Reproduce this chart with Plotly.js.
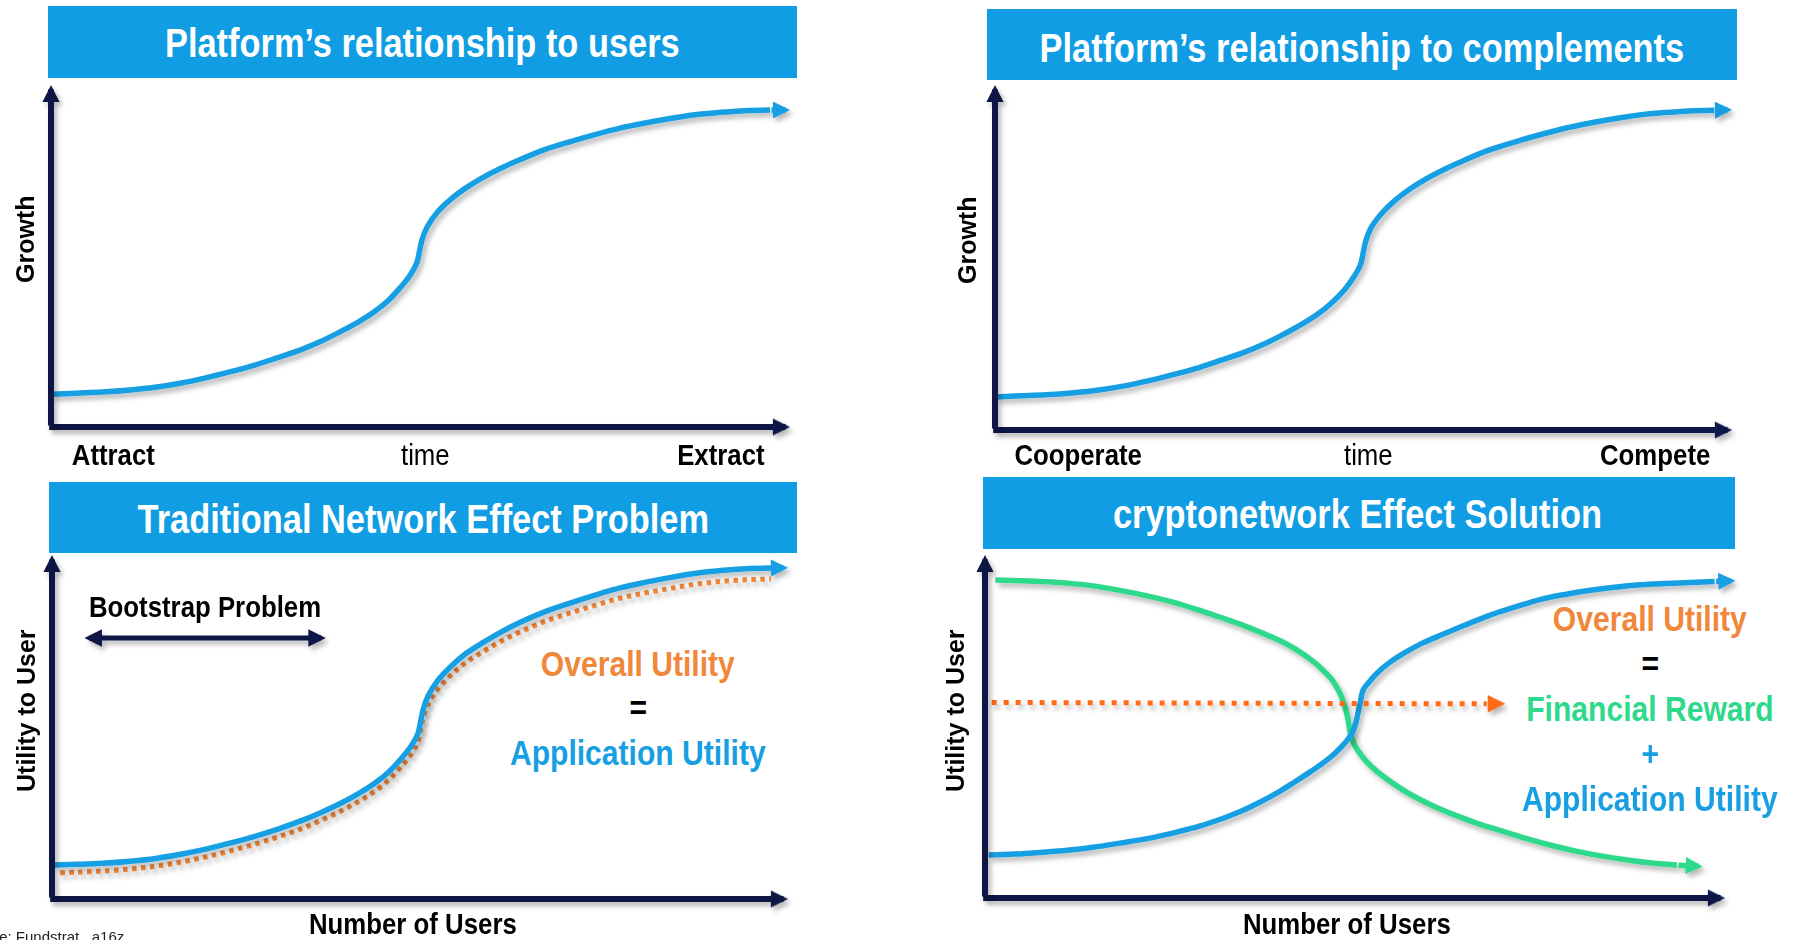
<!DOCTYPE html>
<html>
<head>
<meta charset="utf-8">
<script src="https://cdn.plot.ly/plotly-3.0.1.min.js"></script>
<style>
html, body { margin: 0; padding: 0; background: #fff; }
#chart { width: 1794px; height: 940px; }
</style>
</head>
<body>
<div id="chart"></div>
<script>
var W = 1794, H = 940;

// curves, each panel on its own 0-100 scale (last point = arrow tip)
var usersX = [0.1, 3.5, 6.9, 10.7, 14.1, 17.5, 20.8, 24.2, 27.6, 30.7, 33.7, 36.4, 39.1, 41.5, 43.7, 45.6, 47.2, 48.6, 49.5, 49.9,
              50.2, 50.9, 52.2, 54.0, 56.0, 58.3, 60.8, 63.5, 66.8, 70.2, 73.6, 77.0, 80.4, 83.8, 87.1, 90.5, 93.9, 97.3, 100];
var usersY = [9.6, 9.9, 10.2, 10.8, 11.6, 12.8, 14.3, 16.1, 18.1, 20.3, 22.5, 24.9, 27.8, 30.6, 33.6, 36.9, 40.6, 44.4, 48.0, 51.8,
              54.7, 58.5, 62.6, 66.4, 69.7, 72.8, 75.6, 78.2, 81.1, 83.4, 85.5, 87.4, 88.9, 90.2, 91.3, 92.0, 92.5, 92.7, 92.7];

var complX = [0.1, 3.5, 6.9, 10.7, 14.1, 17.6, 20.9, 24.3, 27.7, 30.8, 33.8, 36.5, 39.2, 41.6, 43.8, 45.7, 47.4, 48.7, 49.6, 50.0,
              50.3, 51.0, 52.4, 54.2, 56.2, 58.5, 61.0, 63.7, 67.0, 70.4, 73.8, 77.2, 80.6, 84.0, 87.4, 90.8, 94.2, 97.6, 100];
var complY = [9.6, 9.9, 10.2, 10.8, 11.6, 12.8, 14.3, 16.1, 18.1, 20.3, 22.5, 24.9, 27.8, 30.6, 33.6, 36.9, 40.6, 44.4, 48.0, 51.8,
              54.7, 58.5, 62.6, 66.4, 69.7, 72.8, 75.6, 78.2, 81.1, 83.4, 85.5, 87.4, 88.9, 90.2, 91.3, 92.0, 92.5, 92.7, 92.8];

var appX = [0.4, 3.5, 6.9, 10.7, 14.1, 17.5, 20.9, 24.3, 27.7, 30.8, 33.8, 36.5, 39.3, 41.7, 43.9, 45.8, 47.4, 48.8, 49.7, 50.1,
            50.4, 51.1, 52.4, 54.2, 56.2, 58.6, 61.0, 63.7, 67.1, 70.5, 73.9, 77.3, 80.7, 84.1, 87.5, 90.9, 94.3, 97.7, 100];
var appY = [9.9, 10.1, 10.4, 11.0, 11.8, 13.0, 14.5, 16.3, 18.3, 20.4, 22.7, 25.1, 27.9, 30.7, 33.7, 37.0, 40.7, 44.5, 48.0, 51.7,
            54.9, 59.0, 63.5, 67.6, 71.3, 74.6, 77.6, 80.5, 83.6, 86.1, 88.4, 90.5, 92.1, 93.5, 94.7, 95.5, 96.0, 96.2, 96.3];

var overallX = [1.1, 3.5, 6.9, 10.7, 14.1, 17.5, 20.9, 24.3, 27.7, 30.8, 33.8, 36.5, 39.3, 41.7, 43.9, 45.8, 47.4, 48.8, 49.7, 50.1,
                50.4, 51.1, 52.4, 54.2, 56.2, 58.6, 61.0, 63.7, 67.1, 70.5, 73.9, 77.3, 80.7, 84.1, 87.5, 90.9, 94.3, 97.7];
var overallY = [7.6, 7.8, 8.1, 8.7, 9.5, 10.7, 12.2, 14.0, 16.0, 18.1, 20.3, 22.8, 25.6, 28.4, 31.4, 34.7, 38.4, 42.2, 45.6, 49.4,
                52.5, 56.6, 61.0, 65.1, 68.7, 71.9, 74.9, 77.7, 80.8, 83.2, 85.4, 87.5, 89.0, 90.3, 91.5, 92.3, 92.8, 93.0];

var cryptoAppX = [0.5, 4.1, 7.6, 11.1, 14.6, 18.2, 21.9, 25.5, 29.1, 32.0, 34.5, 37.2, 39.6, 41.9, 43.9, 45.7, 47.3, 48.6, 49.6, 50.1,
                  50.4, 50.7, 51.1, 51.8, 53.0, 54.7, 56.8, 59.1, 61.8, 64.9, 68.2, 71.6, 75.0, 78.4, 81.8, 85.1, 88.5, 91.9, 95.3, 98.6, 101.4];
var cryptoAppY = [12.5, 12.8, 13.3, 13.9, 14.8, 16.0, 17.3, 19.0, 21.0, 23.1, 25.2, 28.0, 30.8, 33.9, 36.7, 39.4, 42.2, 45.1, 48.1, 51.0,
                  53.9, 56.9, 60.6, 62.7, 65.6, 68.7, 71.6, 74.3, 76.8, 79.6, 82.4, 84.8, 87.0, 88.5, 89.7, 90.6, 91.3, 91.7, 92.0, 92.3, 92.5];

var rewardX = [1.4, 4.7, 8.1, 11.1, 14.6, 18.2, 21.9, 25.5, 29.1, 32.0, 34.9, 37.4, 39.9, 42.0, 43.9, 45.5, 46.9, 47.8, 48.4, 48.8,
               49.1, 49.3, 49.7, 50.4, 51.5, 52.8, 54.5, 56.4, 58.5, 61.0, 63.7, 66.6, 69.9, 73.2, 76.6, 80.0, 83.4, 86.8, 90.1, 93.5, 97.0];
var rewardY = [92.7, 92.5, 92.2, 91.8, 91.0, 89.7, 88.1, 86.2, 83.8, 81.7, 79.5, 77.3, 75.0, 72.5, 69.7, 66.8, 63.6, 60.4, 57.4, 54.5,
               51.6, 48.7, 45.8, 42.9, 39.9, 37.2, 34.4, 31.6, 29.0, 26.4, 24.0, 21.7, 19.5, 17.3, 15.3, 13.6, 12.2, 11.1, 10.2, 9.6, 9.2];

var totalX = [0.9, 67.8, 70.3];
var totalY = [57.0, 56.6, 56.6];

var bootstrapX = [4.2, 37.2];
var bootstrapY = [75.9, 75.9];

var panelTitles = ['Platform’s relationship to users', 'Platform’s relationship to complements',
                   'Traditional Network Effect Problem', 'cryptonetwork Effect Solution'];
var xLabels = [['Attract', 'time', 'Extract'], ['Cooperate', 'time', 'Compete'],
               ['Number of Users'], ['Number of Users']];
var yLabels = ['Growth', 'Growth', 'Utility to User', 'Utility to User'];

// pixel geometry of each panel: axis origin and arrow tips, title box
var panels = [
  {x0: 51,  x1: 790,  y0: 427, y1: 85,  box: [48, 797, 6, 78],     tx: 422,  ty: 43},
  {x0: 995, x1: 1732, y0: 430, y1: 85,  box: [987, 1737, 9, 80],   tx: 1362, ty: 48},
  {x0: 52,  x1: 788,  y0: 899, y1: 555, box: [49, 797, 482, 553],  tx: 423,  ty: 519},
  {x0: 985, x1: 1725, y0: 898, y1: 555, box: [983, 1735, 477, 549], tx: 1357, ty: 514}
];

var NAVY = '#0c1945', BLUE = '#179fe2', BOX = '#119de3', ORANGE = '#f0873a',
    ORANGE2 = '#ff6a13', GREEN = '#2ed98b';
var SANS = 'Liberation Sans, Arial, sans-serif';
var SQUEEZE = 0.86;   // stands in for the condensed face
var narrowIdx = [];

function px(x) { return x / W; }
function py(y) { return 1 - y / H; }

var layout = {
  width: W, height: H,
  margin: {l: 0, r: 0, t: 0, b: 0},
  paper_bgcolor: '#fff', plot_bgcolor: 'rgba(0,0,0,0)',
  showlegend: false,
  shapes: [], annotations: []
};

function arrow(n, ax, ay, x, y, color, width, size) {
  return {xref: 'x' + n, yref: 'y' + n, axref: 'x' + n, ayref: 'y' + n,
    x: x, y: y, ax: ax, ay: ay, text: '', showarrow: true,
    arrowhead: 2, arrowsize: size, arrowwidth: width, arrowcolor: color};
}

function label(text, x, y, size, color, opts) {
  opts = opts || {};
  var a = {xref: 'paper', yref: 'paper', x: px(x), y: py(y), text: text, showarrow: false,
    xanchor: opts.xanchor || 'center', yanchor: opts.yanchor || 'middle',
    textangle: opts.angle || 0,
    font: {family: SANS, size: size, color: color, weight: opts.weight || 700}};
  if (opts.narrow !== false) narrowIdx.push(layout.annotations.length);
  layout.annotations.push(a);
}

panels.forEach(function(p, i) {
  var n = i === 0 ? '' : String(i + 1);
  layout['xaxis' + n] = {domain: [px(p.x0), px(p.x1)], range: [0, 100], visible: false,
                         fixedrange: true, anchor: 'y' + n};
  layout['yaxis' + n] = {domain: [py(p.y0), py(p.y1)], range: [0, 100], visible: false,
                         fixedrange: true, anchor: 'x' + n};
  layout.shapes.push({type: 'rect', xref: 'paper', yref: 'paper', layer: 'below',
    x0: px(p.box[0]), x1: px(p.box[1]), y0: py(p.box[3]), y1: py(p.box[2]),
    fillcolor: BOX, line: {width: 0}});
  label(panelTitles[i], p.tx, p.ty, 40, '#fff');
  // axes with arrow heads
  layout.annotations.push(arrow(n, -0.45, 0, 100, 0, NAVY, 6, 0.57));
  layout.annotations.push(arrow(n, 0, 0, 0, 100, NAVY, 6, 0.57));
});

// curve with its arrow head drawn from the last two readings
function curve(n, xs, ys, color, width, dash, head) {
  var m = head ? xs.length - 1 : xs.length;
  if (head) {
    layout.annotations.push(arrow(n, xs[m - 1], ys[m - 1], xs[m], ys[m], color, width, head));
  }
  return {x: xs.slice(0, m), y: ys.slice(0, m), xaxis: 'x' + n, yaxis: 'y' + n,
    type: 'scatter', mode: 'lines', cliponaxis: false, hoverinfo: 'skip',
    line: {color: color, width: width, shape: m > 3 ? 'spline' : 'linear',
           smoothing: 1, dash: dash || 'solid'}};
}

var data = [
  curve('', usersX, usersY, BLUE, 5.5, null, 0.62),
  curve('2', complX, complY, BLUE, 5.5, null, 0.62),
  curve('3', overallX, overallY, ORANGE, 5, '4.5px,4.5px', 0),
  curve('3', appX, appY, BLUE, 5.5, null, 0.62),
  curve('4', rewardX, rewardY, GREEN, 5.5, null, 0.62),
  curve('4', cryptoAppX, cryptoAppY, BLUE, 5.5, null, 0.62),
  curve('4', totalX, totalY, ORANGE2, 5, '5px,7px', 0.7)
];

// bootstrap double arrow
var bs = arrow('3', bootstrapX[0], bootstrapY[0], bootstrapX[1], bootstrapY[1], NAVY, 5, 0.7);
bs.arrowside = 'end+start'; bs.startarrowhead = 2; bs.startarrowsize = 0.7;
layout.annotations.push(bs);

// axis labels and notes
label(yLabels[0], 25, 239, 25, '#000', {angle: -90, narrow: false});
label(yLabels[1], 967, 240, 25, '#000', {angle: -90, narrow: false});
label(yLabels[2], 26, 711, 25, '#000', {angle: -90, narrow: false});
label(yLabels[3], 955, 711, 25, '#000', {angle: -90, narrow: false});
label(xLabels[0][0], 113, 454, 30, '#000');
label(xLabels[0][1], 425, 454, 30, '#000', {weight: 400});
label(xLabels[0][2], 721, 454, 30, '#000');
label(xLabels[1][0], 1078, 454, 30, '#000');
label(xLabels[1][1], 1368, 454, 30, '#000', {weight: 400});
label(xLabels[1][2], 1655, 454, 30, '#000');
label(xLabels[2][0], 413, 923, 30, '#000');
label(xLabels[3][0], 1347, 923, 30, '#000');
label('Bootstrap Problem', 205, 606, 30, '#000');
label('Overall Utility', 638, 663, 35, ORANGE);
label('=', 638, 707, 35, '#000');
label('Application Utility', 638, 752, 35, BLUE);
label('Overall Utility', 1650, 618, 35, ORANGE);
label('=', 1650, 663, 35, '#000');
label('Financial Reward', 1650, 708, 35, GREEN);
label('+', 1650, 753, 35, BLUE);
label('Application Utility', 1650, 798, 35, BLUE);
label('Source: Fundstrat , a16z', 126, 926, 15, '#222',
      {xanchor: 'right', yanchor: 'top', weight: 400, narrow: false});

Plotly.newPlot('chart', data, layout, {staticPlot: true, displayModeBar: false}).then(function(gd) {
  // condense the bold labels around their centre
  narrowIdx.forEach(function(i) {
    var t = gd.querySelector('.annotation[data-index="' + i + '"] text.annotation-text');
    if (!t) return;
    var b = t.getBBox(), cx = b.x + b.width / 2;
    t.setAttribute('transform', 'translate(' + cx + ',0) scale(' + SQUEEZE + ',1) translate(' + (-cx) + ',0)');
  });
  // soft drop shadow under the lines and arrows
  var svg = gd.querySelector('svg.main-svg');
  var ns = 'http://www.w3.org/2000/svg';
  var defs = svg.querySelector('defs') || svg.insertBefore(document.createElementNS(ns, 'defs'), svg.firstChild);
  var f = document.createElementNS(ns, 'filter');
  f.setAttribute('id', 'dshadow');
  f.setAttribute('filterUnits', 'userSpaceOnUse');
  f.setAttribute('x', '0'); f.setAttribute('y', '0');
  f.setAttribute('width', W); f.setAttribute('height', H);
  var ds = document.createElementNS(ns, 'feDropShadow');
  ds.setAttribute('dx', '3'); ds.setAttribute('dy', '4');
  ds.setAttribute('stdDeviation', '2.5');
  ds.setAttribute('flood-color', '#000'); ds.setAttribute('flood-opacity', '0.28');
  f.appendChild(ds); defs.appendChild(f);
  gd.querySelectorAll('.scatterlayer .trace, .annotation-arrow-g').forEach(function(g) {
    g.setAttribute('filter', 'url(#dshadow)');
  });
});
</script>
</body>
</html>
